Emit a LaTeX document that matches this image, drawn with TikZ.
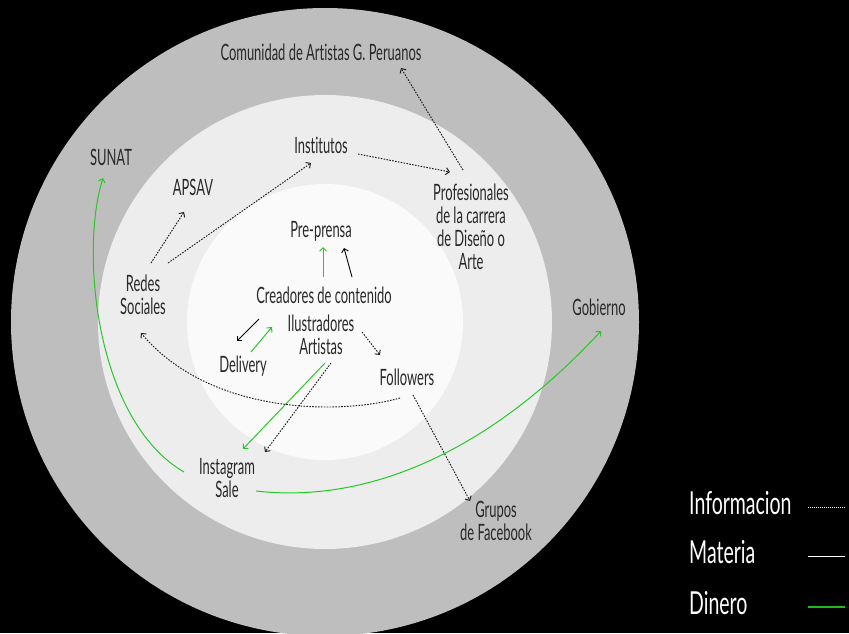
\documentclass[tikz,border=0pt]{standalone}
\usepackage{fontspec}
\setmainfont{Lato}[FakeStretch=0.575,Ligatures=NoCommon]
\newfontfamily\legfont{Lato}[FakeStretch=0.615,Ligatures=NoCommon]
\usetikzlibrary{arrows.meta}
\definecolor{ringA}{RGB}{190,190,190}
\definecolor{ringB}{RGB}{237,237,237}
\definecolor{ringC}{RGB}{250,250,250}
\definecolor{txt}{RGB}{40,40,40}
\definecolor{dinero}{RGB}{40,200,40}
\definecolor{dinleg}{RGB}{30,185,30}
\definecolor{infoc}{RGB}{30,30,30}
\definecolor{legtxt}{RGB}{255,255,255}
\tikzset{
  lbl/.style={text=txt, font=\fontsize{22.5}{23}\selectfont, align=center, inner sep=1pt},
  leg/.style={text=legtxt, font=\legfont\fontsize{31.7}{33}\selectfont\color{legtxt}, anchor=west, inner sep=0pt},
  tip/.style={-{Straight Barb[length=3.5pt,width=7pt]}},
  info/.style={tip, draw=infoc, line width=0.95pt, dash pattern=on 1.6pt off 1.3pt},
  materia/.style={tip, draw=black, line width=0.9pt},
  money/.style={tip, draw=dinero, line width=1pt},
}
\begin{document}
\begin{tikzpicture}[x=1pt,y=-1pt]
\useasboundingbox (0,0) rectangle (849,633);
\fill[black] (0,0) rectangle (849,633);
\fill[ringA] (325,322) circle (314pt);
\fill[ringB] (325,322) circle (227pt);
\fill[ringC] (325,322) circle (138pt);

\node[leg] (lgi) at (689,503) {Informacion};
\node[leg] (lgm) at (689,552) {Materia};
\node[leg] (lgd) at (689,603) {Dinero};
\coordinate (li1) at (808,507); \coordinate (li2) at (845,507);
\coordinate (lm1) at (808,556); \coordinate (lm2) at (845,556);
\coordinate (ld1) at (808,607); \coordinate (ld2) at (845,607);
\begin{scope}
\draw[white, line width=0.8pt, dash pattern=on 1pt off 1pt] (li1) -- (li2);
\draw[white, line width=0.9pt] (lm1) -- (lm2);
\draw[dinleg, line width=1.3pt] (ld1) -- (ld2);
\end{scope}

\node[lbl] (com) at (321,52) {Comunidad de Artistas G. Peruanos};
\node[lbl] (sunat) at (111,157) {SUNAT};
\node[lbl] (inst) at (321,145) {Institutos};
\node[lbl] (apsav) at (193,187) {APSAV};
\node[lbl] (prof) at (471,227) {Profesionales\\de la carrera\\de Diseño o\\Arte};
\node[lbl] (pre) at (321,231) {Pre-prensa};
\node[lbl] (redes) at (143,295) {Redes\\Sociales};
\node[lbl] (cre) at (324,295) {Creadores de contenido};
\node[lbl] (ilus) at (321,335) {Ilustradores\\Artistas};
\node[lbl] (gob) at (599,307) {Gobierno};
\node[lbl] (deliv) at (243,366) {Delivery};
\node[lbl] (foll) at (407,377) {Followers};
\node[lbl] (insta) at (227,478) {Instagram\\Sale};
\node[lbl] (grupos) at (496,521) {Grupos\\de Facebook};

\draw[info] ([shift={(-8,-57)}]prof.center) -- ([shift={(80,16)}]com.center);
\draw[info] ([shift={(37,9)}]inst.center) -- ([shift={(-21,-55)}]prof.center);
\draw[info] ([shift={(25,-32)}]redes.center) -- ([shift={(-10,18)}]inst.center);
\draw[info] ([shift={(8,-32)}]redes.center) -- ([shift={(-9,25)}]apsav.center);
\draw[money] ([shift={(-1,-18)}]cre.center) -- ([shift={(2,16)}]pre.center);
\draw[materia] ([shift={(28,-18)}]cre.center) -- ([shift={(23,17)}]pre.center);
\draw[materia] ([shift={(-62,-16)}]ilus.center) -- ([shift={(-6,-25)}]deliv.center);
\draw[money] ([shift={(8,-14)}]deliv.center) -- ([shift={(-49,-8)}]ilus.center);
\draw[info] ([shift={(41,-3)}]ilus.center) -- ([shift={(-27,-22)}]foll.center);
\draw[info] ([shift={(-7,21)}]foll.center) .. controls (340,415) and (210,415) .. ([shift={(-2,38)}]redes.center);
\draw[money] ([shift={(4,28)}]ilus.center) -- ([shift={(16,-29)}]insta.center);
\draw[info] ([shift={(10,28)}]ilus.center) -- ([shift={(38,-26)}]insta.center);
\draw[info] ([shift={(6,18)}]foll.center) -- ([shift={(-26,-20)}]grupos.center);
\draw[money] ([shift={(29,13)}]insta.center) .. controls (380,505) and (500,440) .. ([shift={(2,24)}]gob.center);
\draw[money] ([shift={(-43,-6)}]insta.center) .. controls (95,420) and (80,250) .. ([shift={(-8,21)}]sunat.center);
\end{tikzpicture}
\end{document}
